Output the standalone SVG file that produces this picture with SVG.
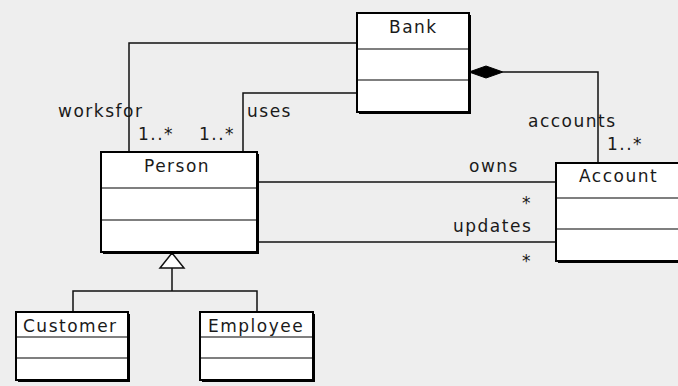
<svg xmlns="http://www.w3.org/2000/svg" width="678" height="386" viewBox="0 0 678 386">
  <style>
    .cls rect.frame { fill: #ffffff; stroke: #000000; stroke-width: 2; }
    .cls rect.shade { fill: #000000; }
    .cls line { stroke: #000000; stroke-width: 1.2; }
    .conn { fill: none; stroke: #111111; stroke-width: 1.5; }
    text { font-family: "DejaVu Sans", Verdana, sans-serif; font-size: 17px; letter-spacing: 1.5px; fill: #1a1a1a; }
  </style>
  <rect x="0" y="0" width="678" height="386" fill="#eeeeee"/>

  <!-- Connectors -->
  <g id="connectors">
    <polyline class="conn" points="129,152 129,43 357,43"/>
    <polyline class="conn" points="243,152 243,93 357,93"/>
    <polyline class="conn" points="598,163 598,72 503,72"/>
    <polygon points="469,72 486,66 503,72 486,78" fill="#000000" stroke="#000000" stroke-width="1"/>
    <line class="conn" x1="257" y1="182" x2="556" y2="182"/>
    <line class="conn" x1="257" y1="242" x2="556" y2="242"/>
    <polygon points="172,253 160,268 184,268" fill="#ffffff" stroke="#111111" stroke-width="1.5"/>
    <line class="conn" x1="172" y1="268" x2="172" y2="291"/>
    <polyline class="conn" points="73,312 73,291 257,291 257,312"/>
    <!-- association labels -->
    <text x="58" y="117">worksfor</text>
    <text x="138" y="140">1..*</text>
    <text x="199" y="140">1..*</text>
    <text x="247" y="117">uses</text>
    <text x="528" y="127">accounts</text>
    <text x="607" y="150">1..*</text>
    <text x="469" y="172">owns</text>
    <text x="522" y="209">*</text>
    <text x="453" y="232">updates</text>
    <text x="522" y="267">*</text>
  </g>

  <g id="bank" class="cls">
    <rect class="shade" x="359" y="15" width="112" height="99"/>
    <rect class="frame" x="357" y="13" width="112" height="99"/>
    <line x1="357" y1="49" x2="469" y2="49"/>
    <line x1="357" y1="80" x2="469" y2="80"/>
    <text x="389" y="33">Bank</text>
  </g>

  <g id="person" class="cls">
    <rect class="shade" x="103" y="154" width="156" height="100"/>
    <rect class="frame" x="101" y="152" width="156" height="100"/>
    <line x1="101" y1="188" x2="257" y2="188"/>
    <line x1="101" y1="220" x2="257" y2="220"/>
    <text x="144" y="172">Person</text>
  </g>

  <g id="account" class="cls">
    <rect class="shade" x="558" y="165" width="140" height="98"/>
    <rect class="frame" x="556" y="163" width="140" height="98"/>
    <line x1="556" y1="198" x2="696" y2="198"/>
    <line x1="556" y1="229" x2="696" y2="229"/>
    <text x="579" y="182">Account</text>
  </g>

  <g id="customer" class="cls">
    <rect class="shade" x="18" y="314" width="112" height="68"/>
    <rect class="frame" x="16" y="312" width="112" height="68"/>
    <line x1="16" y1="337" x2="128" y2="337"/>
    <line x1="16" y1="358" x2="128" y2="358"/>
    <text x="23" y="332">Customer</text>
  </g>

  <g id="employee" class="cls">
    <rect class="shade" x="202" y="314" width="113" height="68"/>
    <rect class="frame" x="200" y="312" width="113" height="68"/>
    <line x1="200" y1="337" x2="313" y2="337"/>
    <line x1="200" y1="358" x2="313" y2="358"/>
    <text x="208" y="332">Employee</text>
  </g>
</svg>
